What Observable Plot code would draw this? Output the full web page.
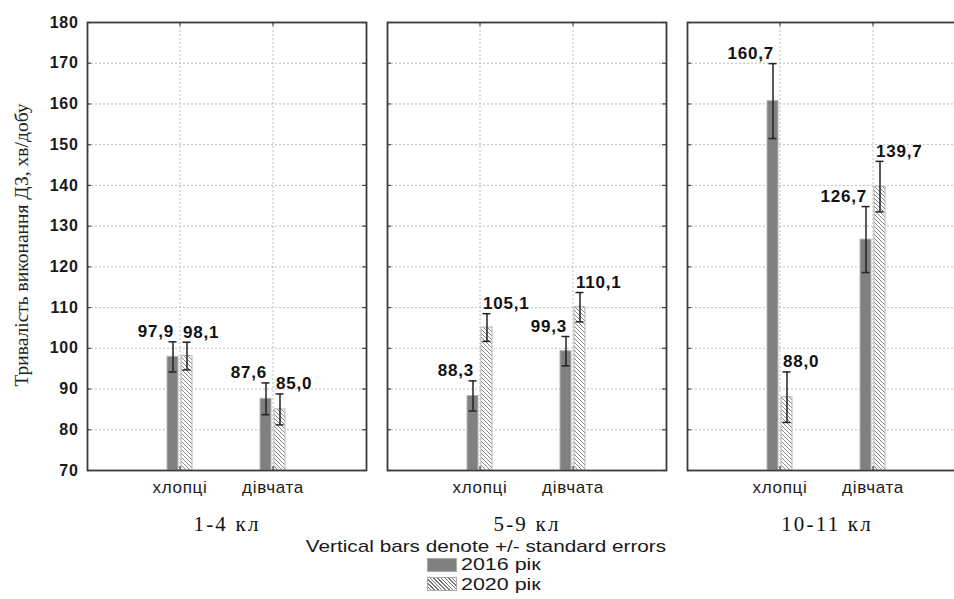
<!DOCTYPE html>
<html><head><meta charset="utf-8">
<script src="https://cdn.jsdelivr.net/npm/d3@7"></script>
<script src="https://cdn.jsdelivr.net/npm/@observablehq/plot@0.6"></script>
<style>
body{margin:0;background:#fff;font-family:"Liberation Sans",Arial,sans-serif;}
#wrap{position:relative;width:954px;height:599px;overflow:hidden;background:#fff;}
#wrap svg{max-width:none !important;}
#ytitle{position:absolute;left:22px;top:245px;transform:translate(-50%,-50%) rotate(-90deg);white-space:nowrap;font-family:"Liberation Serif","Times New Roman",serif;font-size:19.5px;color:#222;}
#note{position:absolute;left:485.5px;top:537px;transform:translateX(-50%) scaleX(1.22);white-space:nowrap;font-size:17px;color:#1a1a1a;}
.lg{position:absolute;left:427px;display:flex;align-items:center;font-size:16.5px;color:#1a1a1a;white-space:nowrap;}
.lg span{display:inline-block;transform:scaleX(1.3);transform-origin:left center;}
.sw{width:30px;height:14px;margin-right:4px;box-sizing:border-box;}
</style></head><body><div id="wrap"></div>
<script>
const classes = ["1-4 кл", "5-9 кл", "10-11 кл"];
const sexes = ["хлопці", "дівчата"];
const years = ["2016 рік", "2020 рік"];
// order: (1-4 хлопці, 1-4 дівчата, 5-9 хлопці, 5-9 дівчата, 10-11 хлопці, 10-11 дівчата)
const mean2016 = [97.9, 87.6, 88.3, 99.3, 160.7, 126.7];
const se2016   = [3.7, 3.9, 3.7, 3.6, 9.2, 8.1];
const mean2020 = [98.1, 85.0, 105.1, 110.1, 88.0, 139.7];
const se2020   = [3.4, 3.8, 3.4, 3.6, 6.2, 6.2];
const yTicks = [70, 80, 90, 100, 110, 120, 130, 140, 150, 160, 170, 180];
const yTitle = "Тривалість виконання ДЗ, хв/добу";
const noteText = "Vertical bars denote +/- standard errors";

function rows(means, ses) {
  return means.map((m, i) => ({cls: classes[Math.floor(i / 2)], sex: sexes[i % 2], mean: m, lo: m - ses[i], hi: m + ses[i]}));
}
const d16 = rows(mean2016, se2016);
const d20 = rows(mean2020, se2020);
const fmt = d => d.mean.toFixed(1).replace(".", ",");

const errStroke = "#222";
const labelOpts = {fontWeight: "bold", fontSize: 17, fill: "#111"};

const chart = Plot.plot({
  width: 970, height: 540,
  marginLeft: 87, marginRight: 4, marginTop: 22, marginBottom: 70,
  style: {fontFamily: "'Liberation Sans', Arial, sans-serif", color: "#222", background: "#fff", overflow: "visible", maxWidth: "none"},
  fx: {domain: classes, paddingInner: 0.07, paddingOuter: 0, label: null},
  x: {type: "band", domain: sexes, paddingInner: 0.73, paddingOuter: 0.865, label: null},
  y: {domain: [70, 180], label: null},
  marks: [
    Plot.gridY(yTicks, {stroke: "#bdbdbd", strokeOpacity: 1, strokeDasharray: "2,2"}),
    Plot.gridX({stroke: "#bdbdbd", strokeOpacity: 1, strokeDasharray: "2,2"}),
    Plot.barY(d16, {fx: "cls", x: "sex", y1: 70, y2: "mean", fill: "#808080", stroke: "#b5b5b5", strokeWidth: 1, insetRight: 14}),
    Plot.barY(d20, {fx: "cls", x: "sex", y1: 70, y2: "mean", fill: "url(#hatch2020)", stroke: "#b5b5b5", strokeWidth: 1, insetLeft: 14}),
    Plot.ruleX(d16, {fx: "cls", x: "sex", y1: "lo", y2: "hi", dx: -7, stroke: errStroke, strokeWidth: 1.5}),
    Plot.ruleX(d20, {fx: "cls", x: "sex", y1: "lo", y2: "hi", dx: 7, stroke: errStroke, strokeWidth: 1.5}),
    Plot.tickY(d16, {fx: "cls", x: "sex", y: "hi", insetLeft: 1.5, insetRight: 15.5, stroke: errStroke, strokeWidth: 1.5}),
    Plot.tickY(d16, {fx: "cls", x: "sex", y: "lo", insetLeft: 1.5, insetRight: 15.5, stroke: errStroke, strokeWidth: 1.5}),
    Plot.tickY(d20, {fx: "cls", x: "sex", y: "hi", insetLeft: 15.5, insetRight: 1.5, stroke: errStroke, strokeWidth: 1.5}),
    Plot.tickY(d20, {fx: "cls", x: "sex", y: "lo", insetLeft: 15.5, insetRight: 1.5, stroke: errStroke, strokeWidth: 1.5}),
    Plot.text(d16, {fx: "cls", x: "sex", y: "hi", text: fmt, dx: -6, dy: -10, textAnchor: "end", className: "vlab", ...labelOpts}),
    Plot.text(d20, {fx: "cls", x: "sex", y: "hi", text: fmt, dx: 3, dy: -10, textAnchor: "start", className: "vlab", ...labelOpts}),
    Plot.tickY(yTicks, {y: d => d, insetRight: 275, stroke: "#444", strokeWidth: 1.2}),
    Plot.tickY(yTicks, {y: d => d, insetLeft: 275, stroke: "#444", strokeWidth: 1.2}),
    Plot.tickX(sexes, {x: d => d, insetBottom: 444, stroke: "#444", strokeWidth: 1.2}),
    Plot.tickX(sexes, {x: d => d, insetTop: 444, stroke: "#444", strokeWidth: 1.2}),
    Plot.axisY({ticks: yTicks, tickSize: 0, tickPadding: 9, fontSize: 16, fontWeight: "bold", fill: "#1a1a1a", label: null}),
    Plot.axisX({tickSize: 0, tickPadding: 10, fontSize: 17, fill: "#1a1a1a", label: null}),
    Plot.axisFx({anchor: "bottom", tickSize: 0, tickPadding: 46, fontSize: 21, fontFamily: "'Liberation Serif', 'Times New Roman', serif", fill: "#111", label: null}),
    Plot.frame({stroke: "#3a3a3a", strokeWidth: 1.8})
  ]
});

// hatch pattern for 2020 bars
const defs = d3.create("svg:defs");
const pat = defs.append("pattern").attr("id", "hatch2020").attr("patternUnits", "userSpaceOnUse").attr("width", 4).attr("height", 4);
pat.append("rect").attr("width", 4).attr("height", 4).attr("fill", "#fff");
pat.append("path").attr("d", "M-1,-1L5,5M3,-1L5,1M-1,3L1,5").attr("stroke", "#7a7a7a").attr("stroke-width", 0.9);
chart.insertBefore(defs.node(), chart.firstChild);

// slightly wider lettering, as in the reference
const sel = d3.select(chart);
sel.selectAll('g[aria-label="y-axis tick label"] text').style("letter-spacing", "0.7px");
sel.selectAll('g[aria-label="x-axis tick label"] text').style("letter-spacing", "0.7px");
sel.selectAll('g[aria-label="fx-axis tick label"] text').style("letter-spacing", "2.2px");
sel.selectAll('.vlab text, text.vlab, g.vlab text').style("letter-spacing", "0.8px");

const wrap = document.getElementById("wrap");
wrap.appendChild(chart);

const yt = document.createElement("div"); yt.id = "ytitle"; yt.textContent = yTitle; wrap.appendChild(yt);
const note = document.createElement("div"); note.id = "note"; note.textContent = noteText; wrap.appendChild(note);
const swStyles = ["background:#808080;border:1px solid #aaa;",
  "background:repeating-linear-gradient(45deg,#fff 0,#fff 1.6px,#7a7a7a 1.6px,#7a7a7a 2.6px);border:1px solid #aaa;"];
years.forEach((y, i) => {
  const row = document.createElement("div");
  row.className = "lg";
  row.style.top = (555 + i * 19.5) + "px";
  row.innerHTML = `<div class="sw" style="${swStyles[i]}"></div><span>${y}</span>`;
  wrap.appendChild(row);
});
</script></body></html>
